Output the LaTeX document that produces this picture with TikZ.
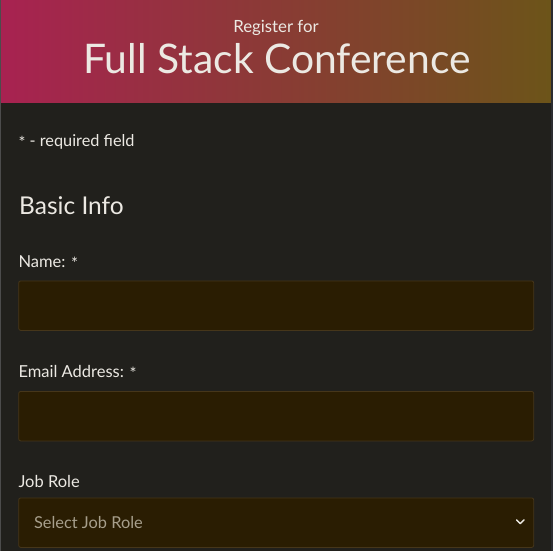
\documentclass[tikz,border=0pt]{standalone}
\usepackage{fontspec}
\setmainfont{Lato}
\usetikzlibrary{positioning}
\definecolor{pagebg}{HTML}{21201C}
\definecolor{headleft}{HTML}{A82251}
\definecolor{headright}{HTML}{6C5419}
\definecolor{fieldbg}{HTML}{2A1D02}
\definecolor{fieldline}{HTML}{46361A}
\definecolor{inktext}{HTML}{ECE9E3}
\definecolor{hinttext}{HTML}{A79F8C}
\definecolor{edgeline}{HTML}{2C2D31}
\newcommand{\reqmark}{\raisebox{-0.3ex}{*}}

\begin{document}
\begin{tikzpicture}[
  x=1pt, y=-1pt,
  lbl/.style={anchor=base west, inner sep=0pt, text=inktext, font=\fontsize{16.5}{18}\selectfont},
  field/.style={draw=fieldline, fill=fieldbg, rounded corners=2pt, line width=0.8pt,
    minimum width=515pt, minimum height=49.5pt, anchor=north west, inner sep=0pt}
]
% page and header band
\fill[pagebg] (0,0) rectangle (553,551);
\useasboundingbox (0,0) rectangle (553,551);
\node[anchor=north west, inner sep=0pt, minimum width=551pt, minimum height=102.5pt,
  left color=headleft, right color=headright] (header) at (0,0) {};
\fill[black!70] (0,0) rectangle (1,551);
\fill[edgeline] (551,0) rectangle (553,551);

% titles
\node[anchor=base, inner sep=0pt, text=inktext, font=\fontsize{16.8}{18}\selectfont] (register) at (276,33) {Register for};
\node[anchor=base, inner sep=0pt, text=inktext, font=\fontsize{40.8}{44}\selectfont] (conftitle) at (277,73) {Full Stack Conference};

% form
\node[lbl, font=\fontsize{16.3}{18}\selectfont] (required) at (18.3,146) {\reqmark{} - required field};
\node[lbl, font=\fontsize{24.5}{30}\selectfont] (basicinfo) at (19,214) {Basic Info};

\node[lbl] (namelbl) at (18.3,267) {Name: \reqmark};
\node[field] (namebox) at (18.3,280.5) {};

\node[lbl] (emaillbl) at (18.3,377) {Email Address: \reqmark};
\node[field] (emailbox) at (18.3,391) {};

\node[lbl] (rolelbl) at (18.3,487) {Job Role};
\node[field] (rolebox) at (18.3,497.5) {};
\node[lbl, text=hinttext, font=\fontsize{16.4}{18}\selectfont, right=15.5pt of rolebox.west, anchor=west] (rolehint) {Select Job Role};
\draw[inktext, line width=1.4pt, line cap=round, line join=round]
  (516.5,519.8) -- (520.3,523.6) -- (524.1,519.8);
\end{tikzpicture}
\end{document}
